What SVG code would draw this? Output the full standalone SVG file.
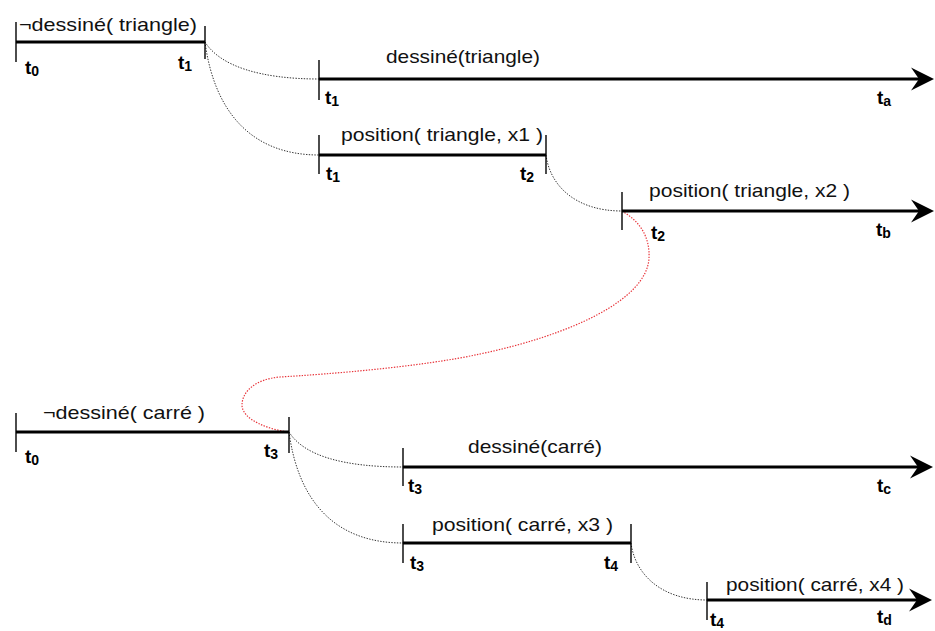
<svg xmlns="http://www.w3.org/2000/svg" width="935" height="631" viewBox="0 0 935 631">
<defs>
<style>
.bg{fill:#ffffff}
.bar{stroke:#000;stroke-width:3;fill:none}
.tick{stroke:#000;stroke-width:1.4;fill:none}
.dot{stroke:#333;stroke-width:1;stroke-dasharray:1.4 1.4;fill:none}
.red{stroke:#e8343a;stroke-width:1.2;stroke-dasharray:1.4 1.4;fill:none}
.lbl{font-family:"Liberation Sans",Arial,sans-serif;font-size:18.5px;fill:#111}
.t{font-family:"Liberation Sans",Arial,sans-serif;font-size:19px;font-weight:bold;fill:#000}
.sub{font-size:14px}
</style>
<marker id="arr" markerUnits="userSpaceOnUse" markerWidth="26" markerHeight="26" viewBox="0 -13 26 26" refX="8" refY="0" orient="auto">
<path d="M0,-11.5 L23,0 L0,11.5 L8,0 Z" fill="#000"/>
</marker>
</defs>
<rect class="bg" x="0" y="0" width="935" height="631"/>

<g id="connectors">
<path class="dot" d="M205,42 C220,66 260,79 319,79"/>
<path class="dot" d="M205,42 C214,110 250,155 319,155"/>
<path class="dot" d="M546,155 C550,186 576,211 622,211"/>
<path class="red" d="M622,211 C641,222 650,238 649,258 C647,300 570,335 480,354 C420,367 330,374 280,377 C255,379 242,392 242,405 C242,420 270,430 289,432"/>
<path class="dot" d="M289,432 C304,456 344,467 403,467"/>
<path class="dot" d="M289,432 C298,500 334,543 403,543"/>
<path class="dot" d="M631,543 C635,574 661,600 707,600"/>
</g>

<g id="n1">
<line class="bar" x1="16" y1="42" x2="205" y2="42"/>
<line class="tick" x1="16" y1="22" x2="16" y2="62"/>
<line class="tick" x1="205" y1="26" x2="205" y2="59"/>
<text class="lbl" x="19" y="31" textLength="178" lengthAdjust="spacingAndGlyphs">¬dessiné( triangle)</text>
<text class="t" x="25" y="74">t<tspan class="sub" dy="2">0</tspan></text>
<text class="t" x="178" y="69">t<tspan class="sub" dy="2">1</tspan></text>
</g>

<g id="n2">
<line class="bar" x1="319" y1="79" x2="919" y2="79" marker-end="url(#arr)"/>
<line class="tick" x1="319" y1="60" x2="319" y2="100"/>
<text class="lbl" x="386" y="63" textLength="154" lengthAdjust="spacingAndGlyphs">dessiné(triangle)</text>
<text class="t" x="325" y="104">t<tspan class="sub" dy="2">1</tspan></text>
<text class="t" x="877" y="104">t<tspan class="sub" dy="2">a</tspan></text>
</g>

<g id="n3">
<line class="bar" x1="319" y1="155" x2="546" y2="155"/>
<line class="tick" x1="319" y1="135" x2="319" y2="174"/>
<line class="tick" x1="546" y1="135" x2="546" y2="174"/>
<text class="lbl" x="341" y="141" textLength="202" lengthAdjust="spacingAndGlyphs">position( triangle, x1 )</text>
<text class="t" x="326" y="180">t<tspan class="sub" dy="2">1</tspan></text>
<text class="t" x="520" y="180">t<tspan class="sub" dy="2">2</tspan></text>
</g>

<g id="n4">
<line class="bar" x1="622" y1="211" x2="919" y2="211" marker-end="url(#arr)"/>
<line class="tick" x1="622" y1="192" x2="622" y2="230"/>
<text class="lbl" x="649" y="197" textLength="201" lengthAdjust="spacingAndGlyphs">position( triangle, x2 )</text>
<text class="t" x="651" y="239">t<tspan class="sub" dy="2">2</tspan></text>
<text class="t" x="876" y="236">t<tspan class="sub" dy="2">b</tspan></text>
</g>

<g id="n5">
<line class="bar" x1="16" y1="432" x2="289" y2="432"/>
<line class="tick" x1="16" y1="413" x2="16" y2="452"/>
<line class="tick" x1="289" y1="417" x2="289" y2="453"/>
<text class="lbl" x="43" y="419" textLength="162" lengthAdjust="spacingAndGlyphs">¬dessiné( carré )</text>
<text class="t" x="25" y="463">t<tspan class="sub" dy="2">0</tspan></text>
<text class="t" x="264" y="457">t<tspan class="sub" dy="2">3</tspan></text>
</g>

<g id="n6">
<line class="bar" x1="403" y1="467" x2="918" y2="467" marker-end="url(#arr)"/>
<line class="tick" x1="403" y1="448" x2="403" y2="486"/>
<text class="lbl" x="468" y="453" textLength="134" lengthAdjust="spacingAndGlyphs">dessiné(carré)</text>
<text class="t" x="408" y="492">t<tspan class="sub" dy="2">3</tspan></text>
<text class="t" x="877" y="492">t<tspan class="sub" dy="2">c</tspan></text>
</g>

<g id="n7">
<line class="bar" x1="403" y1="543" x2="631" y2="543"/>
<line class="tick" x1="403" y1="524" x2="403" y2="563"/>
<line class="tick" x1="631" y1="524" x2="631" y2="563"/>
<text class="lbl" x="432" y="531" textLength="181" lengthAdjust="spacingAndGlyphs">position( carré, x3 )</text>
<text class="t" x="410" y="569">t<tspan class="sub" dy="2">3</tspan></text>
<text class="t" x="604" y="569">t<tspan class="sub" dy="2">4</tspan></text>
</g>

<g id="n8">
<line class="bar" x1="707" y1="600" x2="917" y2="600" marker-end="url(#arr)"/>
<line class="tick" x1="707" y1="582" x2="707" y2="620"/>
<text class="lbl" x="726" y="591" textLength="178" lengthAdjust="spacingAndGlyphs">position( carré, x4 )</text>
<text class="t" x="710" y="626">t<tspan class="sub" dy="2">4</tspan></text>
<text class="t" x="877" y="623">t<tspan class="sub" dy="2">d</tspan></text>
</g>
</svg>
